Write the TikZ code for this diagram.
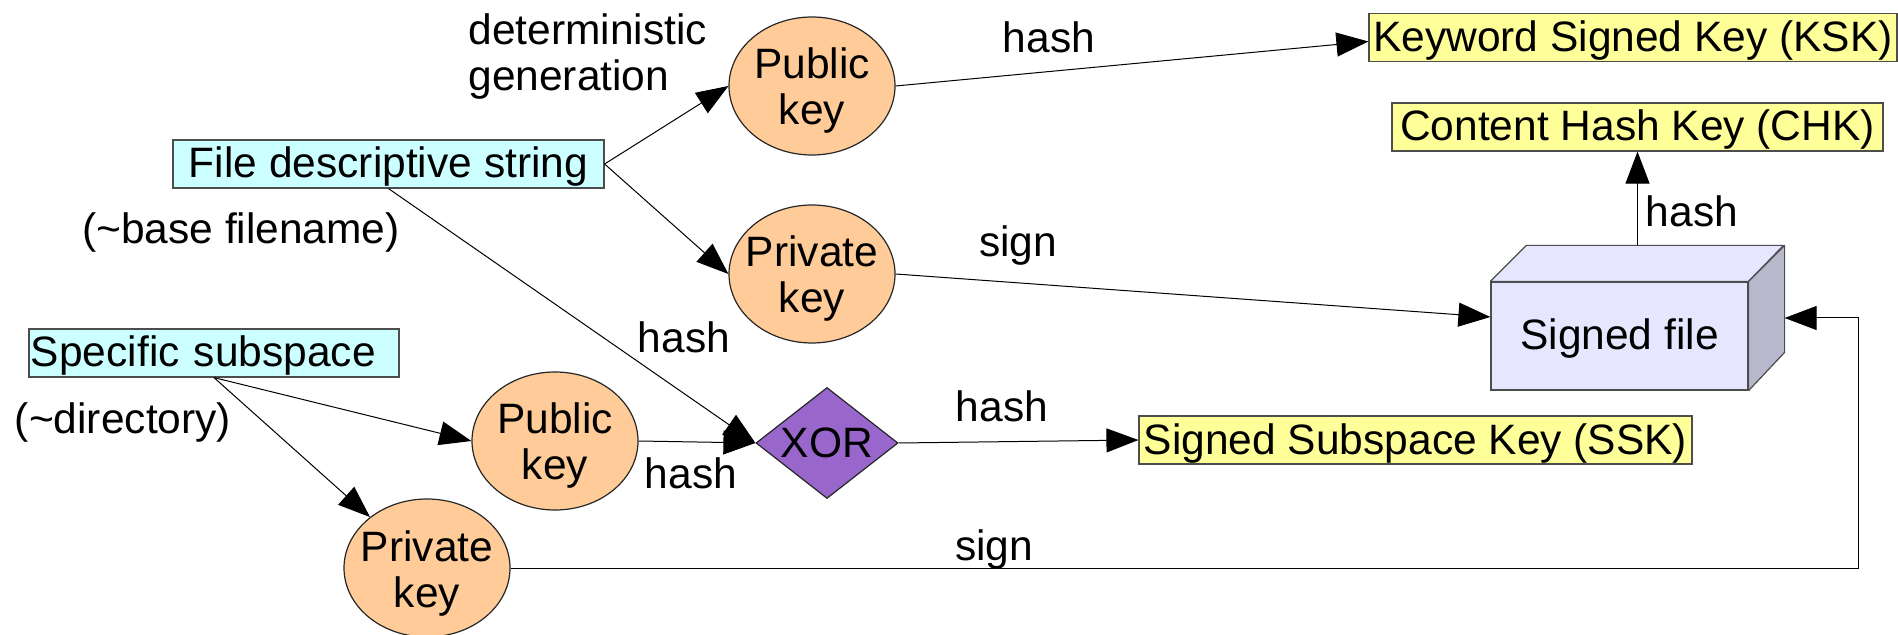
\documentclass[tikz,border=0pt]{standalone}
\usepackage{fontspec}
\setmainfont{Liberation Sans}
\usetikzlibrary{shapes.geometric,arrows.meta,calc}

\definecolor{keycyan}{HTML}{CCFFFF}
\definecolor{keyyellow}{HTML}{FFFF99}
\definecolor{keyorange}{HTML}{FFCC99}
\definecolor{xorpurple}{HTML}{9966CC}
\definecolor{filefront}{HTML}{E6E6FF}
\definecolor{fileside}{HTML}{B8B8CC}
\definecolor{edgegray}{HTML}{4D4D4D}

\begin{document}
\begin{tikzpicture}[x=0.5pt,y=-0.5pt,
  every node/.style={font=\fontsize{21.25}{23}\selectfont, inner sep=0pt},
  oneline/.style={text height=17pt, text depth=3pt},
  strbox/.style={oneline, draw=edgegray, line width=0.6pt, fill=keycyan, minimum height=24pt},
  keybox/.style={oneline, draw=edgegray, line width=0.6pt, fill=keyyellow, minimum height=24pt},
  keyoval/.style={ellipse, draw=black!85, line width=0.6pt, fill=keyorange,
    minimum width=83pt, minimum height=69pt, inner xsep=-4pt, inner ysep=0pt, align=center,
    text height=41pt, text depth=2pt},
  xorgate/.style={diamond, draw=black!85, line width=0.6pt, fill=xorpurple,
    minimum width=71pt, minimum height=55.5pt, shape aspect=1.28},
  filebox/.style={oneline, draw=edgegray, line width=0.6pt, fill=filefront,
    minimum width=128.5pt, minimum height=54pt},
  filepart/.style={draw=edgegray, line width=0.6pt, line join=round},
  arr/.style={draw=black, line width=0.5pt, -{Triangle[length=16pt,width=12pt]}},
  lbl/.style={anchor=base},
]
\useasboundingbox (0,0) rectangle (1898,635);

% source strings
\node[strbox, minimum width=215.5pt] (fds) at (388.5,164) {File descriptive string};
\node[strbox, minimum width=185pt, text width=183pt, align=left] (ss) at (214,353) {Specific subspace};

% resulting keys
\node[keybox, minimum width=264pt] (ksk) at (1633,37.5) {Keyword Signed Key (KSK)};
\node[keybox, minimum width=245.5pt] (chk) at (1637.5,127) {Content Hash Key (CHK)};
\node[keybox, minimum width=276.5pt] (ssk) at (1415.5,440) {Signed Subspace Key (SSK)};

% key pairs
\node[keyoval] (pk1) at (812,86) {Public\\key};
\node[keyoval] (prk1) at (812,274) {Private\\key};
\node[keyoval] (pk2) at (555,441) {Public\\key};
\node[keyoval] (prk2) at (427,568) {Private\\key};

% combiner
\node[xorgate] (xor) at (827,443) {XOR};

% signed file as a 3D box
\node[filebox] (sf) at (1619.5,336) {Signed file};
\filldraw[filepart, fill=filefront] (sf.north west) -- ++(36,-36) -- ++(257,0) -- (sf.north east) -- cycle;
\filldraw[filepart, fill=fileside] (sf.north east) -- ++(36,-36) -- ++(0,107) -- (sf.south east) -- cycle;
\coordinate (sftop) at ($(sf.north)+(18,-36)$);
\coordinate (sfside) at ($(sf.east)+(36,-18)$);
\coordinate (sfin) at ($(sf.west)+(0,-19)$);
\coordinate (kskin) at ($(ksk.west)+(0,4)$);
\coordinate (rc) at (1858,0);

% connectors
\draw[arr] (fds.east) -- (pk1.west);
\draw[arr] (fds.east) -- (prk1.west);
\draw[arr] (fds.south) -- (xor.west);
\draw[arr] (pk1.east) -- (kskin);
\draw[arr] (prk1.east) -- (sfin);
\draw[arr] (chk.south |- sftop) -- (chk.south);
\draw[arr] (ss.south) -- (pk2.west);
\draw[arr] (ss.south) -- (prk2);
\draw[arr] (pk2.east) -- (xor.west);
\draw[arr] (xor.east) -- (ssk.west);
\draw[arr] (prk2.east) -- (prk2.east -| rc) |- (sfside);

% labels
\node[anchor=base west, align=left] (dg) at (468,91) {deterministic\\generation};
\node[lbl] (bf) at (241,244) {(\textasciitilde base filename)};
\node[lbl] (dir) at (123,434) {(\textasciitilde directory)};
\node[lbl] (lh1) at (1049,53) {hash};
\node[lbl] (ls1) at (1018,257) {sign};
\node[lbl] (lh2) at (684,353) {hash};
\node[lbl] (lh3) at (691,488) {hash};
\node[lbl] (lh4) at (1002,422) {hash};
\node[lbl] (ls2) at (994,560) {sign};
\node[lbl] (lh5) at (1692,227) {hash};
\end{tikzpicture}
\end{document}
